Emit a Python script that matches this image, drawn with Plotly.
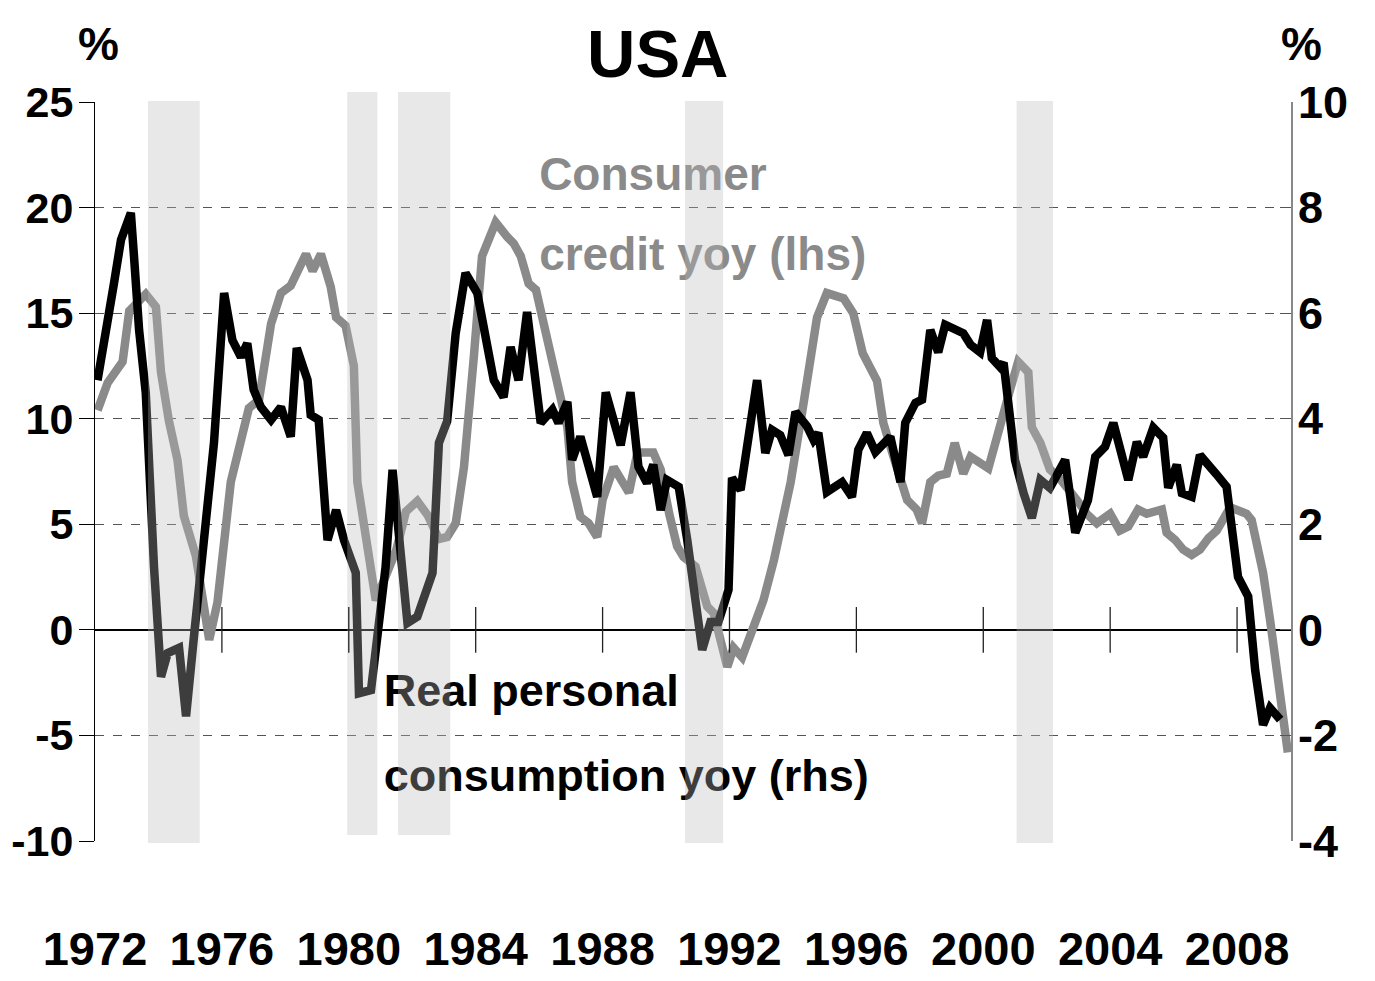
import plotly.graph_objects as go

# ---------------- data ----------------
credit_years = [1972.08, 1972.4, 1972.87, 1973.08, 1973.6, 1973.92, 1974.08, 1974.33, 1974.6, 1974.8,
                1975.18, 1975.6, 1975.86, 1976.28, 1976.85, 1977.17, 1977.55, 1977.86, 1978.17, 1978.65,
                1978.86, 1979.12, 1979.43, 1979.6, 1979.9, 1980.16, 1980.27, 1980.53, 1980.85, 1981.15,
                1981.5, 1981.8, 1982.16, 1982.5, 1982.84, 1983.1, 1983.37, 1983.63, 1983.84, 1983.94,
                1984.2, 1984.63, 1985.0, 1985.2, 1985.42, 1985.67, 1985.9, 1986.15, 1986.46, 1986.73,
                1986.89, 1987.04, 1987.3, 1987.56, 1987.83, 1988.0, 1988.35, 1988.83, 1989.1, 1989.6,
                1989.83, 1990.1, 1990.35, 1990.55, 1990.93, 1991.3, 1991.5, 1991.93, 1992.13, 1992.4,
                1992.76, 1993.07, 1993.4, 1993.6, 1993.93, 1994.3, 1994.45, 1994.76, 1995.07, 1995.6,
                1995.9, 1996.2, 1996.65, 1996.85, 1997.17, 1997.6, 1997.9, 1998.07, 1998.33, 1998.58,
                1998.85, 1999.1, 1999.37, 1999.6, 2000.16, 2000.53, 2000.85, 2001.1, 2001.42, 2001.53,
                2001.8, 2002.1, 2002.37, 2002.95, 2003.26, 2003.58, 2004.0, 2004.3, 2004.57, 2004.88,
                2005.15, 2005.63, 2005.78, 2006.05, 2006.3, 2006.57, 2006.83, 2007.1, 2007.36, 2007.78,
                2008.3, 2008.46, 2008.82, 2009.04, 2009.3, 2009.6]
credit_values = [10.4, 11.7, 12.7, 15.1, 15.9, 15.3, 12.2, 9.9, 8.05, 5.4,
                 3.5, -0.47, 1.3, 7.0, 10.5, 10.9, 14.5, 15.95, 16.3, 17.8,
                 17.0, 17.8, 16.25, 14.8, 14.4, 12.5, 7.0, 4.6, 1.4, 2.5,
                 3.8, 5.6, 6.1, 5.4, 4.3, 4.4, 5.05, 7.7, 10.9, 12.9,
                 17.7, 19.3, 18.6, 18.3, 17.7, 16.4, 16.1, 14.5, 12.3, 10.7,
                 9.6, 7.0, 5.35, 5.05, 4.4, 6.15, 7.7, 6.5, 8.4, 8.4,
                 7.6, 5.5, 3.95, 3.45, 3.0, 1.1, 0.8, -1.75, -0.85, -1.3,
                 0.15, 1.4, 3.3, 4.6, 7.0, 10.4, 12.0, 14.8, 15.95, 15.7,
                 15.0, 13.1, 11.8, 9.8, 8.2, 6.15, 5.7, 5.05, 7.0, 7.3,
                 7.4, 8.85, 7.4, 8.2, 7.65, 9.5, 11.4, 12.7, 12.2, 9.6,
                 8.85, 7.6, 7.25, 6.15, 5.5, 5.05, 5.5, 4.7, 4.9, 5.7,
                 5.5, 5.7, 4.6, 4.26, 3.8, 3.55, 3.8, 4.35, 4.7, 5.8,
                 5.5, 5.2, 2.7, 0.47, -2.5, -5.8]

pce_years = [1972.08, 1972.35, 1972.6, 1972.82, 1973.13, 1973.23, 1973.39, 1973.6, 1973.7, 1973.86,
             1974.08, 1974.29, 1974.65, 1974.87, 1975.13, 1975.43, 1975.65, 1975.75, 1976.07, 1976.33,
             1976.6, 1976.8, 1977.0, 1977.23, 1977.55, 1977.86, 1978.17, 1978.36, 1978.7, 1978.8,
             1979.05, 1979.33, 1979.6, 1979.85, 1980.22, 1980.32, 1980.7, 1980.95, 1981.16, 1981.38,
             1981.85, 1982.16, 1982.64, 1982.84, 1983.1, 1983.37, 1983.68, 1984.05, 1984.57, 1984.88,
             1985.1, 1985.35, 1985.62, 1986.05, 1986.42, 1986.61, 1986.89, 1987.04, 1987.3, 1987.83,
             1988.1, 1988.57, 1988.88, 1989.13, 1989.4, 1989.6, 1989.83, 1990.03, 1990.4, 1990.67,
             1990.93, 1991.14, 1991.4, 1991.65, 1991.97, 1992.08, 1992.35, 1992.87, 1993.13, 1993.34,
             1993.6, 1993.86, 1994.08, 1994.45, 1994.65, 1994.8, 1995.07, 1995.55, 1995.86, 1996.06,
             1996.33, 1996.6, 1997.07, 1997.39, 1997.54, 1997.86, 1998.07, 1998.33, 1998.58, 1998.8,
             1999.37, 1999.6, 1999.9, 2000.12, 2000.27, 2000.53, 2000.64, 2000.8, 2001.0, 2001.27,
             2001.53, 2001.8, 2002.1, 2002.58, 2002.9, 2003.3, 2003.53, 2003.84, 2004.1, 2004.57,
             2004.84, 2005.04, 2005.36, 2005.67, 2005.83, 2006.1, 2006.26, 2006.57, 2006.83, 2007.36,
             2007.67, 2008.03, 2008.35, 2008.57, 2008.82, 2009.04, 2009.36]
pce_values = [4.73, 5.8, 6.57, 7.39, 7.9, 7.07, 5.68, 4.49, 3.09, 1.19,
              -0.89, -0.44, -0.34, -1.64, -0.06, 1.52, 2.78, 3.54, 6.38, 5.49,
              5.17, 5.43, 4.55, 4.22, 3.98, 4.22, 3.66, 5.34, 4.73, 4.07,
              3.98, 1.7, 2.27, 1.7, 1.08, -1.2, -1.14, 0.32, 1.19, 3.03,
              0.13, 0.25, 1.08, 3.54, 3.95, 5.62, 6.76, 6.38, 4.73, 4.41,
              5.36, 4.73, 6.02, 3.92, 4.17, 3.92, 4.32, 3.22, 3.66, 2.52,
              4.5, 3.5, 4.5, 3.09, 2.78, 3.13, 2.27, 2.84, 2.71, 1.7,
              0.57, -0.38, 0.15, 0.15, 0.76, 2.88, 2.65, 4.73, 3.35, 3.79,
              3.69, 3.31, 4.13, 3.85, 3.6, 3.73, 2.61, 2.8, 2.52, 3.41,
              3.73, 3.37, 3.66, 2.8, 3.92, 4.3, 4.36, 5.68, 5.26, 5.78,
              5.62, 5.4, 5.26, 5.87, 5.15, 4.98, 5.06, 4.36, 3.22, 2.59,
              2.12, 2.84, 2.69, 3.22, 1.84, 2.46, 3.28, 3.47, 3.92, 2.84,
              3.56, 3.28, 3.83, 3.64, 2.69, 3.13, 2.59, 2.52, 3.31, 2.94,
              2.71, 1.0, 0.63, -0.76, -1.8, -1.48, -1.7]

recession_start = [1973.67, 1979.95, 1981.55, 1990.6, 2001.05]
recession_end = [1975.3, 1980.9, 1983.2, 1991.8, 2002.2]

x_ticks = [1972, 1976, 1980, 1984, 1988, 1992, 1996, 2000, 2004, 2008]
left_ticks = [-10, -5, 0, 5, 10, 15, 20, 25]
right_ticks = [-4, -2, 0, 2, 4, 6, 8, 10]

FONT = "Liberation Sans, Arial, sans-serif"
GREY = "#8a8a8a"

fig = go.Figure()

fig.add_trace(go.Scatter(x=credit_years, y=credit_values, mode="lines",
                         line=dict(color=GREY, width=8.5), yaxis="y", showlegend=False))
fig.add_trace(go.Scatter(x=pce_years, y=pce_values, mode="lines",
                         line=dict(color="#000000", width=8.5), yaxis="y2", showlegend=False))

fig.add_trace(go.Scatter(x=[1986.0, 1986.0], y=[21.4, 17.6], mode="text",
                         text=["Consumer", "credit yoy (lhs)"], textposition="middle right",
                         textfont=dict(family=FONT, size=46, color=GREY, weight="bold"),
                         cliponaxis=False, showlegend=False, yaxis="y"))
fig.add_trace(go.Scatter(x=[1981.1, 1981.1], y=[-3.05, -7.1], mode="text",
                         text=["Real personal", "consumption yoy (rhs)"], textposition="middle right",
                         textfont=dict(family=FONT, size=45, color="#000000", weight="bold"),
                         cliponaxis=False, showlegend=False, yaxis="y"))

shapes = []
tops = [1.0014, 1.0135, 1.0135, 1.0014, 1.0014]
bots = [-0.0027, 0.0081, 0.0081, -0.0027, -0.0027]
for s, e, t, b in zip(recession_start, recession_end, tops, bots):
    shapes.append(dict(type="rect", xref="x", yref="paper", x0=s, x1=e, y0=b, y1=t,
                       fillcolor="rgba(185,185,185,0.33)", line=dict(width=0), layer="above"))
for xt in x_ticks[1:]:
    shapes.append(dict(type="line", xref="x", yref="y", x0=xt, x1=xt, y0=-1.08, y1=1.08,
                       line=dict(color="#222222", width=1.3), layer="above"))

tickfont = dict(family=FONT, size=47, color="#000000", weight="bold")
ytickfont = dict(family=FONT, size=43, color="#000000", weight="bold")
y2tickfont = dict(family=FONT, size=45, color="#000000", weight="bold")

fig.update_layout(
    width=1375, height=981,
    margin=dict(l=87, r=92, t=94, b=148),
    paper_bgcolor="white", plot_bgcolor="white",
    shapes=shapes,
    xaxis=dict(range=[1972, 2009.7], tickvals=x_ticks, ticktext=[str(v) for v in x_ticks],
               showgrid=False, zeroline=False, showline=False, ticks="", automargin=False,
               tickangle=0, tickfont=tickfont, ticklabelstandoff=76),
    yaxis=dict(range=[-10, 25], tickvals=left_ticks, ticktext=[str(v) for v in left_ticks],
               showgrid=True, gridcolor="#555555", griddash="dash", gridwidth=1,
               zeroline=True, zerolinecolor="#000000", zerolinewidth=1.5,
               showline=True, linecolor="#000000", linewidth=1, automargin=False,
               ticks="outside", ticklen=15, tickcolor="#000000",
               tickfont=ytickfont, ticklabelstandoff=-3),
    yaxis2=dict(range=[-4, 10], tickvals=right_ticks, ticktext=[str(v) for v in right_ticks],
                overlaying="y", side="right", showgrid=False, zeroline=False,
                showline=True, linecolor="#888888", linewidth=2, automargin=False,
                ticks="inside", ticklen=11, tickcolor="#555555",
                tickfont=y2tickfont, ticklabelstandoff=-4),
    annotations=[
        dict(text="USA", xref="paper", yref="paper", x=0.4707, y=1.065, showarrow=False,
             xanchor="center", yanchor="middle",
             font=dict(family=FONT, size=67, color="#000000", weight="bold")),
        dict(text="%", xref="paper", yref="paper", x=0.0033, y=1.0785, showarrow=False,
             xanchor="center", yanchor="middle",
             font=dict(family=FONT, size=46, color="#000000", weight="bold")),
        dict(text="%", xref="paper", yref="paper", x=1.0084, y=1.0785, showarrow=False,
             xanchor="center", yanchor="middle",
             font=dict(family=FONT, size=46, color="#000000", weight="bold")),
    ],
)

fig.write_html("out.html")
